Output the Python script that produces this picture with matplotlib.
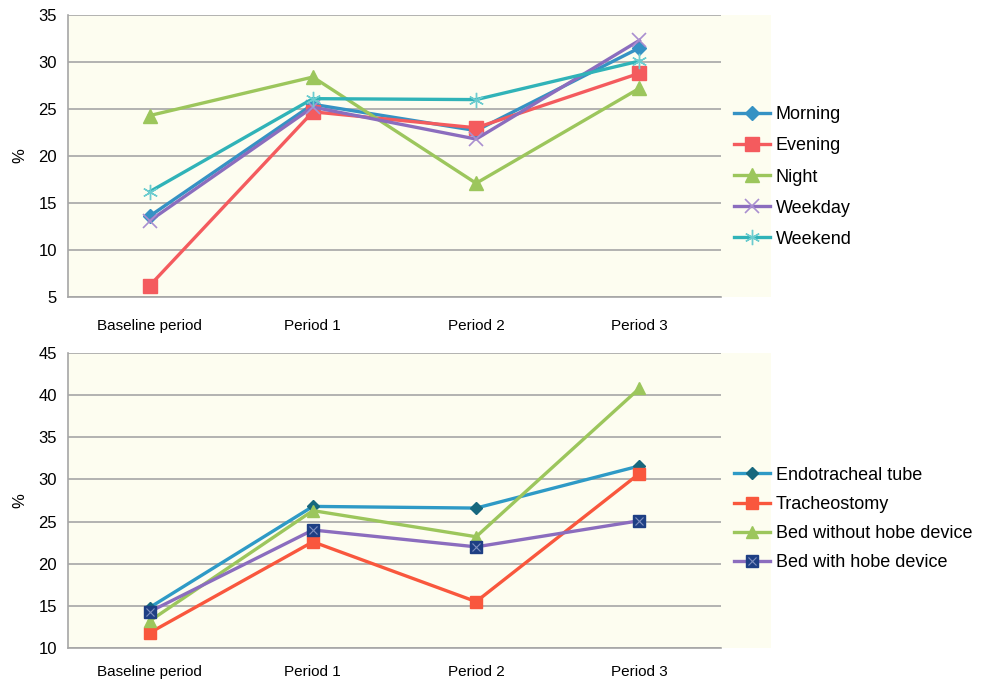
import matplotlib.pyplot as plt
from matplotlib.patches import Rectangle
from matplotlib.legend_handler import HandlerTuple

plt.rcParams['font.family'] = ['Liberation Sans', 'DejaVu Sans']

# dados
periodos = ["Baseline period", "Period 1", "Period 2", "Period 3"]

manha = [13.6, 25.5, 22.7, 31.5]
tarde = [6.2, 24.7, 23.0, 28.8]
noite = [24.3, 28.4, 17.1, 27.2]
semana = [13.1, 25.2, 21.8, 32.3]
fim_semana = [16.2, 26.1, 26.0, 30.1]

tubo = [14.8, 26.8, 26.6, 31.6]
traqueo = [11.8, 22.6, 15.5, 30.7]
sem_cabeceira = [13.2, 26.3, 23.2, 40.8]
com_cabeceira = [14.3, 24.0, 22.0, 25.1]

creme = '#FDFDF0'
grade = '#A6A6A6'

fig = plt.figure(figsize=(9.81, 6.81), dpi=100)
W, H = 981, 681

def painel(top, bottom, ymin, ymax, xpad):
    # fundo creme que vai alem da area das linhas
    fig.patches.append(Rectangle((68 / W, 1 - bottom / H), (771 - 68) / W, (bottom - top) / H,
                                 transform=fig.transFigure, facecolor=creme, edgecolor='none', zorder=-5))
    ax = fig.add_axes([68 / W, 1 - bottom / H, (721 - 68) / W, (bottom - top) / H])
    ax.set_facecolor(creme)
    ax.set_xlim(-0.5, 3.5)
    ax.set_ylim(ymin, ymax)
    ax.set_yticks(range(ymin, ymax + 1, 5))
    ax.set_xticks(range(4))
    ax.set_xticklabels(periodos, fontsize=11)
    ax.tick_params(axis='y', length=0, pad=8, labelsize=12)
    ax.tick_params(axis='x', length=0, pad=xpad)
    ax.yaxis.grid(True, color=grade, lw=1.2)
    ax.set_axisbelow(True)
    for s in ['top', 'right']:
        ax.spines[s].set_visible(False)
    for s in ['left', 'bottom']:
        ax.spines[s].set_color(grade)
        ax.spines[s].set_linewidth(1.2)
    ax.set_ylabel('%', fontsize=12, labelpad=8)
    return ax

x = range(4)

ax1 = painel(15, 297, 5, 35, 16)
ax1.plot(x, manha, color='#3592C4', lw=2.4, marker='D', ms=7, label='Morning')
ax1.plot(x, tarde, color='#F45B5E', lw=2.4, marker='s', ms=10, label='Evening')
ax1.plot(x, noite, color='#9CC65C', lw=2.4, marker='^', ms=10, label='Night')
ax1.plot(x, semana, color='#8B6DBE', lw=2.4, marker='x', ms=10, mew=1.2, mec='#A98FD0', label='Weekday')
ax1.plot(x, fim_semana, color='#30B3B8', lw=2.4, marker=(6, 2, 0), ms=11, mew=1.0, mec='#6CCCCF', label='Weekend')
fig.legend(*ax1.get_legend_handles_labels(), loc='center left', bbox_to_anchor=(734 / W, 1 - 177 / H),
           frameon=False, fontsize=13, handlelength=2.0, handletextpad=0.3, labelspacing=0.78,
           borderaxespad=0, borderpad=0)

ax2 = painel(353, 648, 10, 45, 12)
l1, = ax2.plot(x, tubo, color='#2E9AC6', lw=2.4, marker='D', ms=6, mfc='#17687E', mec='#17687E')
l2, = ax2.plot(x, traqueo, color='#F9573D', lw=2.4, marker='s', ms=9)
l3, = ax2.plot(x, sem_cabeceira, color='#9CC65C', lw=2.4, marker='^', ms=9)
l4, = ax2.plot(x, com_cabeceira, color='#8B6DBE', lw=2.4, marker='s', ms=9, mfc='#1E3F84', mec='#1E3F84')
l4x, = ax2.plot(x, com_cabeceira, ls='none', marker='x', ms=6, mew=0.8, color='#7F8FC0')
fig.legend([l1, l2, l3, (l4, l4x)],
           ['Endotracheal tube', 'Tracheostomy', 'Bed without hobe device', 'Bed with hobe device'],
           handler_map={tuple: HandlerTuple(ndivide=1, pad=0)},
           loc='center left', bbox_to_anchor=(734 / W, 1 - 519 / H),
           frameon=False, fontsize=13, handlelength=2.0, handletextpad=0.3, labelspacing=0.68,
           borderaxespad=0, borderpad=0)

fig.savefig('out.png', dpi=100)
